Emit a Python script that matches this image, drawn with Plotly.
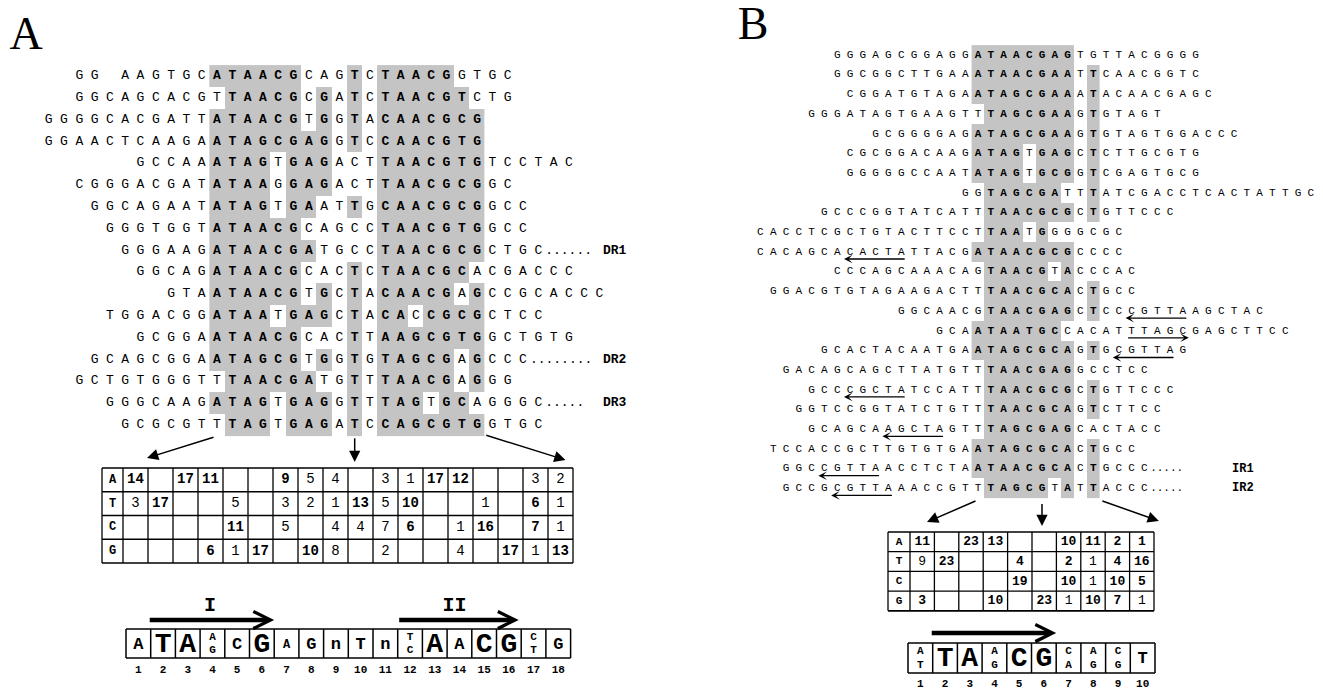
import plotly.graph_objects as go

# ============================ DATA ============================
# Panel A: 17 aligned sequences.  prefix | 18 aligned motif positions | suffix
# In the motif strings UPPER-case = conserved (bold, shaded), lower-case = not conserved.
A_PREFIX = ["GG AAGTGC", "GGCAGCACG", "GGGGCACGATT", "GGAACTCAAGA", "GCCAA", "CGGGACGAT",
            "GGCAGAAT", "GGGTGGT", "GGGAAG", "GGCAG", "GTA", "TGGACGG", "GCGGA",
            "GCAGCGGA", "GCTGTGGGT", "GGGCAAG", "GCGCGT"]
A_MOTIF = ["ATAACGcagTcTAACGgt", "tTAACGcGaTcTAACGTc", "ATAACGtGgTaCAACGCG",
           "ATAGCGAGgTcCAACGTG", "ATAGtGAGactTAACGTG", "ATAAgGAGactTAACGCG",
           "ATAGtGAatTgCAACGCG", "ATAACGcagccTAACGTG", "ATAACGAtgccTAACGCG",
           "ATAACGcacTcTAACGCa", "ATAACGtGcTaCAACGaG", "ATAAtGAGcTaCAcCGCG",
           "ATAACGcacTtAAGCGTG", "ATAGCGtGgTgTAGCGaG", "tTAACGAtgTtTAACGaG",
           "ATAGtGAGgTtTAGtGCa", "tTAGtGAGaTcCAGCGTG"]
A_SUFFIX = ["GC", "TG", "", "", "TCCTAC", "GC", "GCC", "GCC", "CTGC", "CGACCC", "CCGCACCC",
            "CTCC", "GCTGTG", "CCC", "GG", "GGGC", "GTGC"]
A_TAIL = ["", "", "", "", "", "", "", "", "......", "", "", "", "", "........", "", ".....", ""]
A_LABEL = ["", "", "", "", "", "", "", "", "DR1", "", "", "", "", "DR2", "", "DR3", ""]

A_COUNT_A = [14, None, 17, 11, None, None, 9, 5, 4, None, 3, 1, 17, 12, None, None, 3, 2]
A_COUNT_T = [3, 17, None, None, 5, None, 3, 2, 1, 13, 5, 10, None, None, 1, None, 6, 1]
A_COUNT_C = [None, None, None, None, 11, None, 5, None, 4, 4, 7, 6, None, 1, 16, None, 7, 1]
A_COUNT_G = [None, None, None, 6, 1, 17, None, 10, 8, None, 2, None, None, 4, None, 17, 1, 13]
A_CONSENSUS = ["A", "T", "A", "A/G", "C", "G", "A", "G", "n", "T", "n", "T/C", "A", "A", "C", "G", "C/T", "G"]
A_POS_LABELS = ["1", "2", "3", "4", "5", "6", "7", "8", "9", "10", "11", "12", "13", "14", "15", "16", "17", "18"]
A_REPEATS = ["I", "II"]

# Panel B: 23 aligned sequences.  prefix | 10 aligned motif positions | suffix
B_PREFIX = ["GGGAGCGGAGG", "GGCGGCTTGAA", "CGGATGTAGA", "GGGATAGTGAAGT", "GCGGGGAG",
            "CGCGGACAAG", "GGGGGCCAAT", "G", "GCCCGGTATCAT", "CACCTCGCTGTACTTCC",
            "CACAGCACACTATTACG", "CCCAGCAAACA", "GGACGTGTAGAAGACT", "GGCAAC", "GCA",
            "GCACTACAATGA", "GACAGCAGCTTATGT", "GCCCGCTATCCAT", "GGTCCGGTATCTGT",
            "GCAGCAAGCTAGT", "TCCACCGCTTGTGTGA", "GGCCGTTAACCTCTA", "GCCGCGTTAAACCGT"]
B_MOTIF = ["ATAACGAGtg", "ATAACGAAtT", "ATAGCGAAaT", "tTAGCGAAgT", "ATAGCGAAgT",
           "ATAGtGAGcT", "ATAGtGCGgT", "gTAGCGAttT", "tTAACGCGcT", "tTAAtGgggc",
           "ATAACGCGcc", "gTAACGtAcc", "tTAACGCAcT", "gTAACGAGcT", "ATAATGCcac",
           "ATAGCGCAgT", "tTAACGAGgc", "tTAACGCGcT", "tTAACGCAgT", "tTAGCGAGca",
           "ATAGCGCAcT", "ATAACGCAcT", "tTAGCGtAtT"]
B_SUFFIX = ["TTACGGGG", "CAACGGTC", "ACAACGAGC", "GTAGT", "GTAGTGGACCC", "CTTGCGTG",
            "CGAGTGCG", "ATCGACCTCACTATTGC", "GTTCCC", "GC", "CC", "CAC", "GCC",
            "CCCGTTAAGCTAC", "ATTTAGCGAGCTTCC", "GCGTTAG", "CTCC", "GTTCCC", "CTTCC",
            "CTACC", "GCC", "GCCC", "ACCC"]
B_TAIL = [""] * 21 + [".....", "....."]
B_LABEL = [""] * 21 + ["IR1", "IR2"]
# inverted-repeat half sites: (sequence row, first char, last char, direction)
B_REPEAT_MARKS = [(10, 7, 11, "left"), (13, 18, 22, "left"), (14, 15, 19, "right"),
                  (15, 23, 27, "left"), (17, 3, 7, "left"), (19, 6, 10, "left"),
                  (21, 3, 7, "left"), (22, 4, 8, "left")]

B_COUNT_A = [11, None, 23, 13, None, None, 10, 11, 2, 1]
B_COUNT_T = [9, 23, None, None, 4, None, 2, 1, 4, 16]
B_COUNT_C = [None, None, None, None, 19, None, 10, 1, 10, 5]
B_COUNT_G = [3, None, None, 10, None, 23, 1, 10, 7, 1]
B_CONSENSUS = ["A/T", "T", "A", "A/G", "C", "G", "C/A", "A/G", "C/G", "T"]
B_POS_LABELS = ["1", "2", "3", "4", "5", "6", "7", "8", "9", "10"]

BASES = ["A", "T", "C", "G"]

# ============================ STYLE ============================
MONO = "Liberation Mono"
SERIF = "Liberation Serif"
GRAY = "#c4c4c4"
W, H = 1323, 691

A_CONS_SIZE = ["M", "L", "L", "S2", "M", "L", "S", "M", "M", "M", "M", "S2", "L", "M", "L", "L", "S2", "M"]
B_CONS_SIZE = ["S2", "L", "L", "S2", "L", "L", "S2", "S2", "S2", "M"]
A_TABLE_BOLD = [[1, 0, 1, 1, 0, 0, 1, 0, 0, 0, 0, 0, 1, 1, 0, 0, 0, 0],
                [0, 1, 0, 0, 0, 0, 0, 0, 0, 1, 0, 1, 0, 0, 0, 0, 1, 0],
                [0, 0, 0, 0, 1, 0, 0, 0, 0, 0, 0, 1, 0, 0, 1, 0, 1, 0],
                [0, 0, 0, 1, 0, 1, 0, 1, 0, 0, 0, 0, 0, 0, 0, 1, 0, 1]]
B_TABLE_BOLD = [[1, 0, 1, 1, 0, 0, 1, 1, 1, 1],
                [0, 1, 0, 0, 1, 0, 1, 0, 1, 1],
                [0, 0, 0, 0, 1, 0, 1, 0, 1, 1],
                [1, 0, 0, 1, 0, 1, 0, 1, 1, 0]]

# geometry (pixels)
GA = dict(x0=217, pitch=15.3, y0=76, rowh=21.8, size=13, label_x=603, label_size=13)
GB = dict(x0=978, pitch=12.8, y0=55, rowh=19.7, size=11, label_x=1232, label_size=12)
TA = dict(x0=102, lblw=21, cw=25, y0=468, rh=23.75, size=14)
TB = dict(x0=888, lblw=22, cw=24.4, y0=532, rh=19.7, size=13)
CA = dict(x0=126, cw=24.7, top=629, bot=658, ynum=670)
CB = dict(x0=908, cw=24.7, top=643, bot=673, ynum=684)
CONS_FONT = {"L": 28, "M": 17, "S": 12, "S2": 11}

traces, shapes, annotations = [], [], []


def add_text(xs, ys, ts, size, bold=False, family=MONO, pos="middle center"):
    traces.append(go.Scatter(
        x=xs, y=ys, text=ts, mode="text", textposition=pos,
        textfont=dict(family=family, size=size, color="black",
                      weight="bold" if bold else "normal"),
        hoverinfo="skip", showlegend=False, cliponaxis=False))


def add_line(x0, y0, x1, y1, w=1.3):
    shapes.append(dict(type="line", xref="x", yref="y", x0=x0, y0=y0, x1=x1, y1=y1,
                       line=dict(color="black", width=w)))


def add_arrow(x0, y0, x1, y1, width=1.5, head=2, size=1.5):
    annotations.append(dict(x=x1, y=y1, ax=x0, ay=y0, xref="x", yref="y", axref="x", ayref="y",
                            text="", showarrow=True, arrowhead=head, arrowsize=size,
                            arrowwidth=width, arrowcolor="black", standoff=0, startstandoff=0))


def draw_alignment(prefix, motif, suffix, tail, label, g):
    nmot = len(motif[0])
    z, px, py, pt, bx, by, bt = [], [], [], [], [], [], []
    for r, (pre, mot, suf) in enumerate(zip(prefix, motif, suffix)):
        y = g["y0"] + g["rowh"] * r
        full = pre + mot + suf
        for i, ch in enumerate(full):
            c = i - len(pre)
            if ch == " ":
                continue
            x = g["x0"] + g["pitch"] * c
            if 0 <= c < nmot and ch.isupper():
                bx.append(x); by.append(y); bt.append(ch)
            else:
                px.append(x); py.append(y); pt.append(ch.upper())
        z.append([1 if ch.isupper() else None for ch in mot])
        end_c = len(mot) + len(suf) - 1
        if tail[r]:
            add_text([g["x0"] + g["pitch"] * (end_c + 0.45)], [y], [tail[r]], g["size"], pos="middle right")
        if label[r]:
            add_text([g["label_x"]], [y], [label[r]], g["label_size"], bold=True, pos="middle right")
    hm = go.Heatmap(x=[g["x0"] + g["pitch"] * c for c in range(nmot)],
                    y=[g["y0"] + g["rowh"] * r for r in range(len(motif))],
                    z=z, zmin=0, zmax=1, colorscale=[[0, GRAY], [1, GRAY]],
                    showscale=False, hoverinfo="skip")
    traces.insert(0, hm)
    add_text(px, py, pt, g["size"])
    add_text(bx, by, bt, g["size"], bold=True)


def draw_table(counts, bold, t):
    ncol = len(counts[0])
    xa = t["x0"] + t["lblw"]
    xe = xa + t["cw"] * ncol
    for k in range(5):
        add_line(t["x0"], t["y0"] + t["rh"] * k, xe, t["y0"] + t["rh"] * k, 1.7 if k in (0, 4) else 1.3)
    for xv in [t["x0"], xa] + [xa + t["cw"] * j for j in range(1, ncol + 1)]:
        add_line(xv, t["y0"], xv, t["y0"] + 4 * t["rh"], 1.3)
    add_text([t["x0"] + t["lblw"] / 2] * 4, [t["y0"] + t["rh"] * (k + 0.5) for k in range(4)],
             BASES, t["size"] - 2, bold=True)
    for want_bold in (False, True):
        xs, ys, ts = [], [], []
        for k, row in enumerate(counts):
            for j, v in enumerate(row):
                if v is None or bool(bold[k][j]) != want_bold:
                    continue
                xs.append(xa + t["cw"] * (j + 0.5)); ys.append(t["y0"] + t["rh"] * (k + 0.5)); ts.append(str(v))
        add_text(xs, ys, ts, t["size"], bold=want_bold)


def draw_consensus(cons, sizes, poslabels, c):
    n = len(cons)
    xe = c["x0"] + c["cw"] * n
    add_line(c["x0"], c["top"], xe, c["top"], 1.7)
    add_line(c["x0"], c["bot"], xe, c["bot"], 1.7)
    for j in range(n + 1):
        add_line(c["x0"] + c["cw"] * j, c["top"], c["x0"] + c["cw"] * j, c["bot"], 1.5)
    ym = (c["top"] + c["bot"]) / 2
    groups = {}
    for j, (lab, s) in enumerate(zip(cons, sizes)):
        xc = c["x0"] + c["cw"] * (j + 0.5)
        if "/" in lab:
            a, b = lab.split("/")
            groups.setdefault(s, []).extend([(xc, ym - 6.5, a), (xc, ym + 7, b)])
        else:
            groups.setdefault(s, []).append((xc, ym + 1, lab))
    for s, items in groups.items():
        add_text([i[0] for i in items], [i[1] for i in items], [i[2] for i in items], CONS_FONT[s], bold=True)
    add_text([c["x0"] + c["cw"] * (j + 0.5) for j in range(n)], [c["ynum"]] * n, poslabels, 11, bold=True)


# ---------------- Panel A ----------------
draw_alignment(A_PREFIX, A_MOTIF, A_SUFFIX, A_TAIL, A_LABEL, GA)
draw_table([A_COUNT_A, A_COUNT_T, A_COUNT_C, A_COUNT_G], A_TABLE_BOLD, TA)
draw_consensus(A_CONSENSUS, A_CONS_SIZE, A_POS_LABELS, CA)

ylast_a = GA["y0"] + GA["rowh"] * (len(A_MOTIF) - 1)
add_arrow(GA["x0"] - 2, ylast_a + 12, TA["x0"] + 45, TA["y0"] - 10)
add_arrow(GA["x0"] + GA["pitch"] * 9, ylast_a + 12, GA["x0"] + GA["pitch"] * 9, TA["y0"] - 6)
add_arrow(GA["x0"] + GA["pitch"] * 17.5, ylast_a + 10, TA["x0"] + TA["lblw"] + TA["cw"] * 17.7, TA["y0"] - 8)

ya = CA["top"] - 9
add_arrow(CA["x0"] + CA["cw"] * 0.9, ya, CA["x0"] + CA["cw"] * 6, ya, width=4.5, head=5, size=0.75)
add_arrow(CA["x0"] + CA["cw"] * 11, ya, CA["x0"] + CA["cw"] * 15.9, ya, width=4.5, head=5, size=0.75)
add_text([CA["x0"] + CA["cw"] * 3.4, CA["x0"] + CA["cw"] * 13.3], [ya - 14, ya - 14], A_REPEATS, 20, bold=True)

add_text([26], [37], ["A"], 46, family=SERIF)

# ---------------- Panel B ----------------
draw_alignment(B_PREFIX, B_MOTIF, B_SUFFIX, B_TAIL, B_LABEL, GB)
for (r, i0, i1, d) in B_REPEAT_MARKS:
    off = len(B_PREFIX[r])
    y = GB["y0"] + GB["rowh"] * r + 7
    xa_ = GB["x0"] + GB["pitch"] * (i0 - off)
    xb_ = GB["x0"] + GB["pitch"] * (i1 - off)
    if d == "left":
        add_arrow(xb_ + 5, y, xa_ - 6, y, width=1.3, head=3, size=1.1)
    else:
        add_arrow(xa_ - 5, y, xb_ + 6, y, width=1.3, head=3, size=1.1)

draw_table([B_COUNT_A, B_COUNT_T, B_COUNT_C, B_COUNT_G], B_TABLE_BOLD, TB)
draw_consensus(B_CONSENSUS, B_CONS_SIZE, B_POS_LABELS, CB)

ylast_b = GB["y0"] + GB["rowh"] * (len(B_MOTIF) - 1)
add_arrow(GB["x0"] - 1, ylast_b + 12, TB["x0"] + 39, TB["y0"] - 10)
add_arrow(GB["x0"] + GB["pitch"] * 5, ylast_b + 14, GB["x0"] + GB["pitch"] * 5, TB["y0"] - 6)
add_arrow(GB["x0"] + GB["pitch"] * 9.6, ylast_b + 12, TB["x0"] + TB["lblw"] + TB["cw"] * 10.2, TB["y0"] - 11)

yb = CB["top"] - 10
add_arrow(CB["x0"] + CB["cw"] * 0.9, yb, CB["x0"] + CB["cw"] * 6, yb, width=4.5, head=5, size=0.75)

add_text([753], [27], ["B"], 46, family=SERIF)

# ---------------- figure ----------------
fig = go.Figure(traces)
fig.update_layout(
    width=W, height=H, margin=dict(l=0, r=0, t=0, b=0),
    paper_bgcolor="white", plot_bgcolor="white",
    xaxis=dict(range=[0, W], visible=False, fixedrange=True),
    yaxis=dict(range=[H, 0], visible=False, fixedrange=True),
    shapes=shapes, annotations=annotations, showlegend=False)
fig.write_html("out.html", config={"displayModeBar": False, "staticPlot": True},
               post_script="document.body.style.margin='0';")
